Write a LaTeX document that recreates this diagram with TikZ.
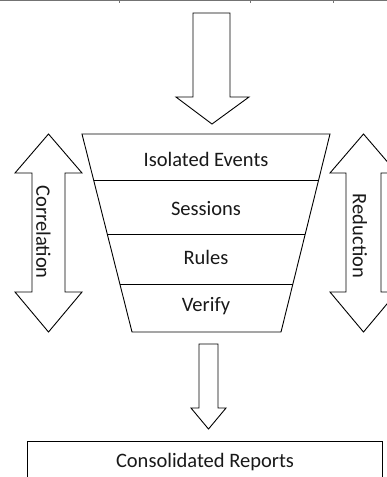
\documentclass[tikz,border=0pt]{standalone}
\usepackage{fontspec}
\setmainfont{Carlito}
\usetikzlibrary{calc}
\begin{document}
\begin{tikzpicture}[x=1pt,y=-1pt,
  outline/.style={draw=black, line width=0.9pt, line join=miter, fill=white},
  label/.style={font=\fontsize{20.5}{22}\selectfont, text=black!90, inner sep=0pt},
  rim/.style={draw=black!55, line width=1pt}]
\useasboundingbox (0,0) rectangle (387,477);

% frame edge along the top
\draw[rim] (0,0.5) -- (387,0.5);
\foreach \t in {119,250,333} \draw[rim] (\t,0.5) -- (\t,2.5);

% block arrow feeding the funnel
\draw[outline] (193,13) -- (230,13) -- (230,97) -- (249,97) -- (212,124)
  -- (176,97) -- (193,97) -- cycle;

% funnel with its four stages
\coordinate (ftl) at (82,134);
\coordinate (ftr) at (330,134);
\coordinate (fbr) at (281,332);
\coordinate (fbl) at (132,332);
\draw[outline] (ftl) -- (ftr) -- (fbr) -- (fbl) -- cycle;
\foreach \yy in {180,234,284}
  \draw[black, line width=0.9pt]
    ($(ftl)!{(\yy-134)/198}!(fbl)$) -- ($(ftr)!{(\yy-134)/198}!(fbr)$);

\node[label] (events)   at (206,159) {Isolated Events};
\node[label] (sessions) at (206,209) {Sessions};
\node[label] (rules)    at (206,257) {Rules};
\node[label] (verify)   at (206,306) {Verify};

% correlation: double-headed arrow on the left
\draw[outline] (48.5,134) -- (82,173) -- (65,173) -- (65,292) -- (82,292)
  -- (48.5,332) -- (15,292) -- (32,292) -- (32,173) -- (15,173) -- cycle;
\node[label, rotate=-90] (corr) at (43.5,232) {Correlation};

% reduction: double-headed arrow on the right
\draw[outline] (363.5,134) -- (397,173) -- (381,173) -- (381,292) -- (397,292)
  -- (363.5,332) -- (330,292) -- (346,292) -- (346,173) -- (330,173) -- cycle;
\node[label, rotate=-90] (red) at (360,236) {Reduction};

% block arrow leaving the funnel
\draw[outline] (199,344) -- (218,344) -- (218,408) -- (226,408) -- (208.5,429)
  -- (191,408) -- (199,408) -- cycle;

% output box
\draw[outline] (27,441) rectangle (382,490);
\node[label] (reports) at (205,462) {Consolidated Reports};
\end{tikzpicture}
\end{document}
